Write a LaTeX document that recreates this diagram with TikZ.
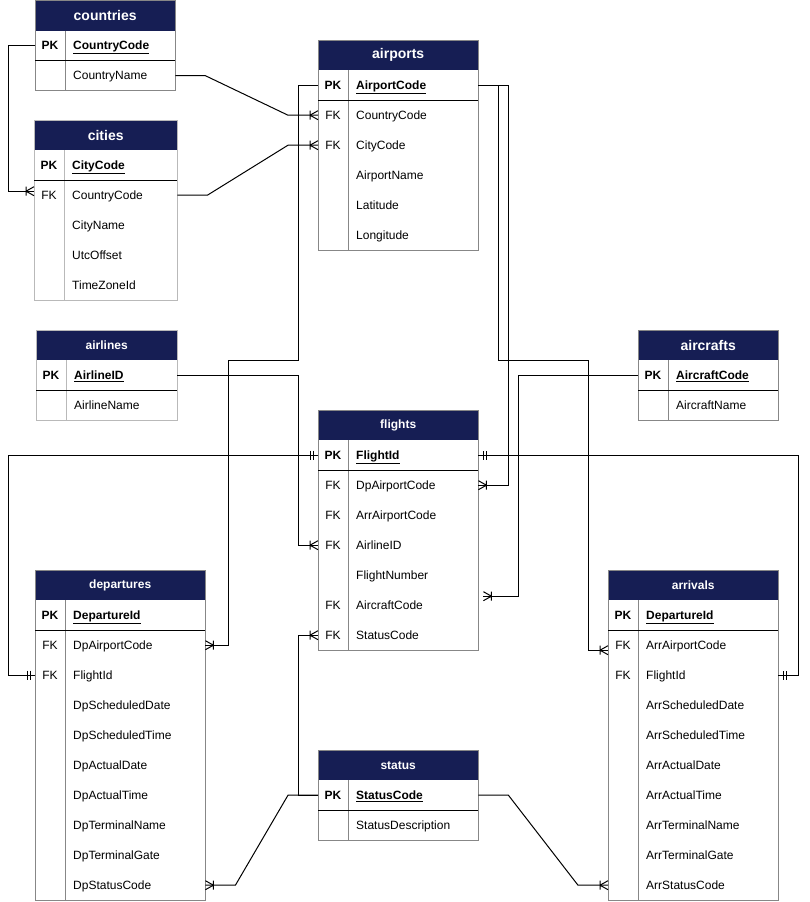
\documentclass[tikz,border=0pt]{standalone}
\usepackage{fontspec}
\setmainfont{Liberation Sans}
\usetikzlibrary{calc}
\definecolor{navy}{RGB}{22,30,84}
\definecolor{tblgray}{RGB}{135,135,135}
\definecolor{tbllight}{RGB}{185,185,185}
\tikzset{
  hdr/.style={fill=navy, text=white, minimum height=30pt, inner sep=0pt},
  bigtitle/.style={font=\bfseries\fontsize{14}{16}\selectfont},
  smalltitle/.style={font=\bfseries\fontsize{12}{14}\selectfont},
  rowcell/.style={minimum height=30pt, inner sep=0pt, draw=none},
  keytxt/.style={inner sep=0pt, anchor=base, font=\fontsize{12}{14}\selectfont},
  fldtxt/.style={inner sep=0pt, anchor=base west, font=\fontsize{12}{14}\selectfont},
  tblline/.style={line width=1pt},
  sepline/.style={line width=1pt, draw=black},
  conn/.style={line width=1pt, draw=black},
  ermany/.pic={\draw[conn] (-8,-4.5)--(-8,4.5) (-8,0)--(0,-4.5) (-8,0)--(0,4.5);},
  erone/.pic={\draw[conn] (-5,-4.5)--(-5,4.5) (-8,-4.5)--(-8,4.5);},
}
% #1 name, #2 x, #3 y, #4 width, #5 rows, #6 title style, #7 title, #8 rows, #9 border colour
\newcommand\ertable[9]{%
  \node[hdr, minimum width=#4pt, anchor=north west, #6] (#1) at (#2,#3) {#7};
  \foreach \k/\f [count=\i from 0] in {#8} {
    \node[rowcell, minimum width=#4pt, anchor=north west] (#1-\i) at ({#2},{#3+30+30*\i}) {};
    \ifnum\i=0
      \node[keytxt, font=\bfseries\fontsize{12}{14}\selectfont] at ({#2+15},{#3+49.3}) {\k};
      \node[fldtxt, font=\bfseries\fontsize{12}{14}\selectfont] at ({#2+38},{#3+49.3}) {\underline{\f}};
    \else
      \node[keytxt] at ({#2+15},{#3+49.3+30*\i}) {\k};
      \node[fldtxt] at ({#2+38},{#3+49.3+30*\i}) {\f};
    \fi
  }
  \draw[tblline, draw=#9] (#2,#3) rectangle ({#2+#4},{#3+30+30*#5});
  \draw[tblline, draw=#9] ({#2+30},{#3+30}) -- ({#2+30},{#3+30+30*#5});
  \draw[sepline] (#2,{#3+60}) -- ({#2+#4},{#3+60});
}
\begin{document}
\begin{tikzpicture}[x=1pt, y=-1pt]
\useasboundingbox (0,0) rectangle (809,902);

\ertable{countries}{35}{0.5}{140}{2}{bigtitle}{countries}{PK/CountryCode, {}/CountryName}{tblgray}
\ertable{cities}{34}{120}{143}{5}{bigtitle}{cities}{PK/CityCode, FK/CountryCode, {}/CityName, {}/UtcOffset, {}/TimeZoneId}{tbllight}
\ertable{airports}{318}{40}{160}{6}{bigtitle}{airports}{PK/AirportCode, FK/CountryCode, FK/CityCode, {}/AirportName, {}/Latitude, {}/Longitude}{tblgray}
\ertable{airlines}{36}{330}{141}{2}{smalltitle}{airlines}{PK/AirlineID, {}/AirlineName}{tbllight}
\ertable{aircrafts}{638}{330}{140}{2}{bigtitle}{aircrafts}{PK/AircraftCode, {}/AircraftName}{tblgray}
\ertable{flights}{318}{410}{160}{7}{smalltitle}{flights}{PK/FlightId, FK/DpAirportCode, FK/ArrAirportCode, FK/AirlineID, {}/FlightNumber, FK/AircraftCode, FK/StatusCode}{tblgray}
\ertable{departures}{35}{570}{170}{10}{smalltitle}{departures}{PK/DepartureId, FK/DpAirportCode, FK/FlightId, {}/DpScheduledDate, {}/DpScheduledTime, {}/DpActualDate, {}/DpActualTime, {}/DpTerminalName, {}/DpTerminalGate, {}/DpStatusCode}{tblgray}
\ertable{arrivals}{608}{570}{170}{10}{smalltitle}{arrivals}{PK/DepartureId, FK/ArrAirportCode, FK/FlightId, {}/ArrScheduledDate, {}/ArrScheduledTime, {}/ArrActualDate, {}/ArrActualTime, {}/ArrTerminalName, {}/ArrTerminalGate, {}/ArrStatusCode}{tblgray}
\ertable{status}{318}{750}{160}{2}{smalltitle}{status}{PK/StatusCode, {}/StatusDescription}{tblgray}

% connector end points that sit off the row centres
\coordinate (citiesfk) at ($(cities-1.west)+(0,-4)$);
\coordinate (arrapfk) at ($(arrivals-1.west)+(0,5)$);
\coordinate (acfk) at ($(flights-5.east)+(5,-9)$);

% countries -> cities
\draw[conn] (countries-0.west) -- ++(-27,0) |- (citiesfk);
\pic at (citiesfk) {ermany};
% countries -> airports
\draw[conn] (countries-1.east) -- ++(30,0) -- ($(airports-1.west)+(-30,0)$) -- (airports-1.west);
\pic at (airports-1.west) {ermany};
% cities -> airports
\draw[conn] (cities-1.east) -- ++(30,0) -- ($(airports-2.west)+(-30,0)$) -- (airports-2.west);
\pic at (airports-2.west) {ermany};
% airports -> departures
\draw[conn] (airports-0.west) -- ++(-20,0) -- ++(0,275) -| ($(departures-1.east)+(23,0)$) -- (departures-1.east);
\pic[rotate=180] at (departures-1.east) {ermany};
% airports -> flights
\draw[conn] (airports-0.east) -- ++(30,0) |- (flights-1.east);
\pic[rotate=180] at (flights-1.east) {ermany};
% airports -> arrivals
\draw[conn] (airports-0.east) -- ++(20,0) -- ++(0,275) -| ($(arrapfk)+(-20,0)$) -- (arrapfk);
\pic at (arrapfk) {ermany};
% airlines -> flights
\draw[conn] (airlines-0.east) -| ($(flights-3.west)+(-20,0)$) -- (flights-3.west);
\pic at (flights-3.west) {ermany};
% aircrafts -> flights
\draw[conn] (aircrafts-0.west) -| ($(acfk)+(35,0)$) -- (acfk);
\pic[rotate=180] at (acfk) {ermany};
% flights -> departures
\draw[conn] (flights-0.west) -- ++(-310,0) |- (departures-2.west);
\pic at (flights-0.west) {erone};
\pic at (departures-2.west) {erone};
% flights -> arrivals
\draw[conn] (flights-0.east) -- ++(320,0) |- (arrivals-2.east);
\pic[rotate=180] at (flights-0.east) {erone};
\pic[rotate=180] at (arrivals-2.east) {erone};
% status -> flights
\draw[conn] (status-0.west) -- ++(-20,0) |- (flights-6.west);
\pic at (flights-6.west) {ermany};
% status -> departures
\draw[conn] (status-0.west) -- ++(-30,0) -- ($(departures-9.east)+(30,0)$) -- (departures-9.east);
\pic[rotate=180] at (departures-9.east) {ermany};
% status -> arrivals
\draw[conn] (status-0.east) -- ++(30,0) -- ($(arrivals-9.west)+(-30,0)$) -- (arrivals-9.west);
\pic at (arrivals-9.west) {ermany};
\end{tikzpicture}
\end{document}
